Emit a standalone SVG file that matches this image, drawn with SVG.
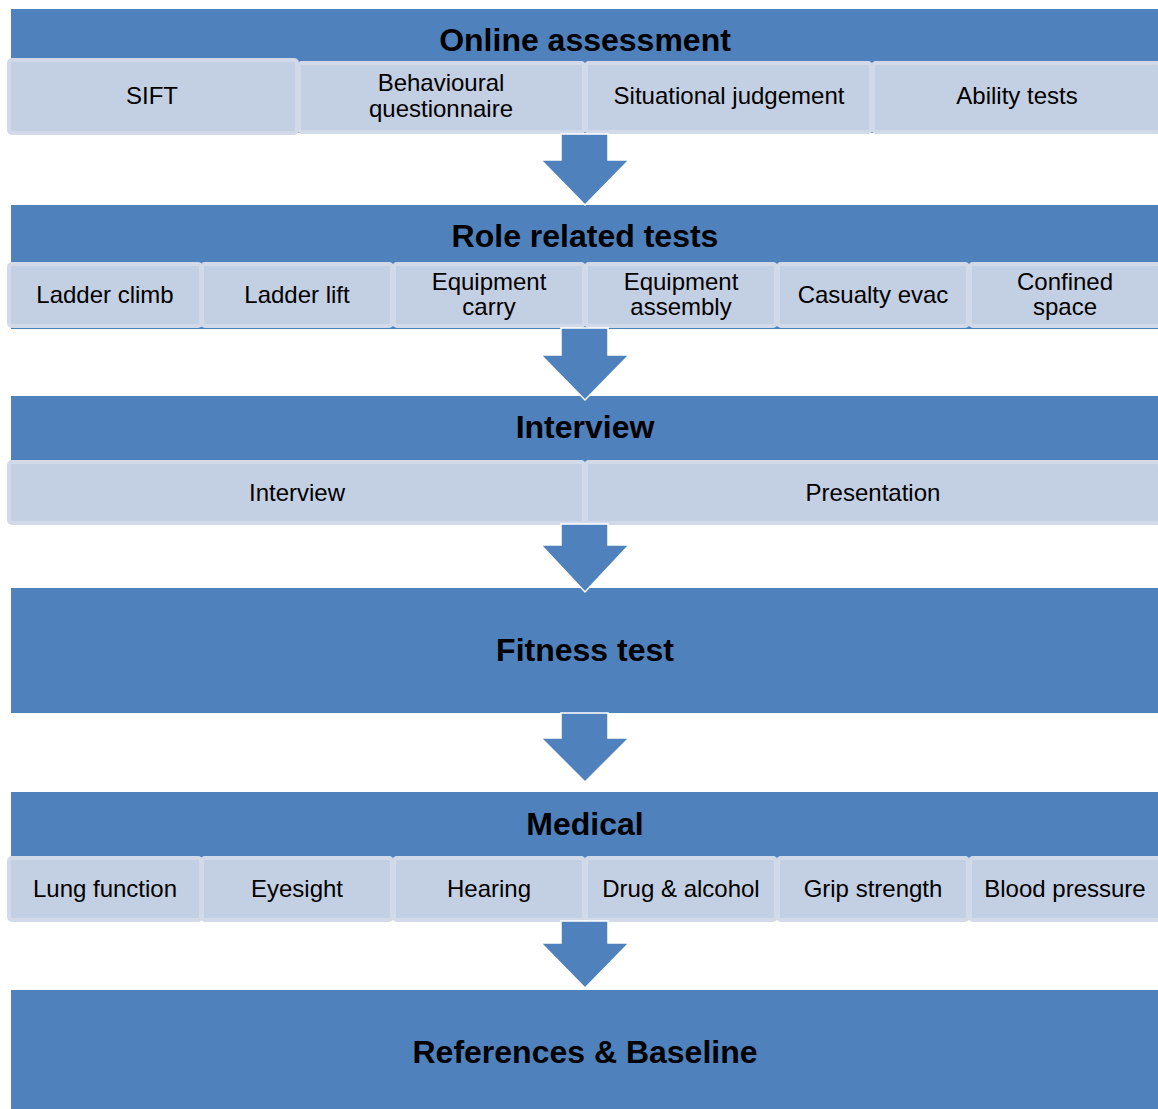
<svg xmlns="http://www.w3.org/2000/svg" width="1158" height="1109" viewBox="0 0 1158 1109">
<style>
.bar{fill:#4F81BD;}
.sub{fill:#C3CFE2;stroke:#D2DAE9;stroke-width:4;}
.h{font-family:"Liberation Sans",Arial,sans-serif;font-weight:bold;font-size:32px;fill:#000;text-anchor:middle;}
.t{font-family:"Liberation Sans",Arial,sans-serif;font-size:24px;fill:#000;text-anchor:middle;}
.arr{fill:#4F81BD;stroke:#FFFFFF;stroke-width:1.5;stroke-linejoin:miter;}
</style>
<rect width="1158" height="1109" fill="#FFFFFF"/>

<g id="online-assessment">
<rect class="bar" x="11" y="9" width="1147" height="124"/>
<text class="h" x="585" y="51">Online assessment</text>
<g id="sift"><rect class="sub" x="9" y="60" width="288" height="73" rx="3"/><text class="t" x="152" y="104">SIFT</text></g>
<g id="behavioural"><rect class="sub" x="299" y="63" width="285" height="69" rx="3"/><text class="t" x="441" y="91">Behavioural</text><text class="t" x="441" y="117">questionnaire</text></g>
<g id="situational"><rect class="sub" x="586" y="63" width="285" height="69" rx="3"/><text class="t" x="729" y="104">Situational judgement</text></g>
<g id="ability"><rect class="sub" x="873" y="63" width="287" height="69" rx="3"/><text class="t" x="1017" y="104">Ability tests</text></g>
</g>

<g id="role-related-tests">
<rect class="bar" x="11" y="205" width="1147" height="124"/>
<text class="h" x="585" y="247">Role related tests</text>
<g id="ladder-climb"><rect class="sub" x="9" y="264" width="192" height="62" rx="3"/><text class="t" x="105" y="303">Ladder climb</text></g>
<g id="ladder-lift"><rect class="sub" x="202" y="264" width="190" height="62" rx="3"/><text class="t" x="297" y="303">Ladder lift</text></g>
<g id="equipment-carry"><rect class="sub" x="394" y="264" width="190" height="62" rx="3"/><text class="t" x="489" y="290">Equipment</text><text class="t" x="489" y="315">carry</text></g>
<g id="equipment-assembly"><rect class="sub" x="586" y="264" width="190" height="62" rx="3"/><text class="t" x="681" y="290">Equipment</text><text class="t" x="681" y="315">assembly</text></g>
<g id="casualty-evac"><rect class="sub" x="778" y="264" width="190" height="62" rx="3"/><text class="t" x="873" y="303">Casualty evac</text></g>
<g id="confined-space"><rect class="sub" x="970" y="264" width="190" height="62" rx="3"/><text class="t" x="1065" y="290">Confined</text><text class="t" x="1065" y="315">space</text></g>
</g>

<g id="interview">
<rect class="bar" x="11" y="396" width="1147" height="127"/>
<text class="h" x="585" y="438">Interview</text>
<g id="interview-sub"><rect class="sub" x="9" y="462" width="575" height="61" rx="3"/><text class="t" x="297" y="501">Interview</text></g>
<g id="presentation"><rect class="sub" x="586" y="462" width="574" height="61" rx="3"/><text class="t" x="873" y="501">Presentation</text></g>
</g>

<g id="fitness-test">
<rect class="bar" x="11" y="588" width="1147" height="125"/>
<text class="h" x="585" y="661">Fitness test</text>
</g>

<g id="medical">
<rect class="bar" x="11" y="792" width="1147" height="128"/>
<text class="h" x="585" y="835">Medical</text>
<g id="lung"><rect class="sub" x="9" y="858" width="192" height="62" rx="3"/><text class="t" x="105" y="897">Lung function</text></g>
<g id="eyesight"><rect class="sub" x="202" y="858" width="190" height="62" rx="3"/><text class="t" x="297" y="897">Eyesight</text></g>
<g id="hearing"><rect class="sub" x="394" y="858" width="190" height="62" rx="3"/><text class="t" x="489" y="897">Hearing</text></g>
<g id="drug"><rect class="sub" x="586" y="858" width="190" height="62" rx="3"/><text class="t" x="681" y="897">Drug &amp; alcohol</text></g>
<g id="grip"><rect class="sub" x="778" y="858" width="190" height="62" rx="3"/><text class="t" x="873" y="897">Grip strength</text></g>
<g id="blood"><rect class="sub" x="970" y="858" width="190" height="62" rx="3"/><text class="t" x="1065" y="897">Blood pressure</text></g>
</g>

<g id="references">
<rect class="bar" x="11" y="990" width="1147" height="119"/>
<text class="h" x="585" y="1063">References &amp; Baseline</text>
</g>

<g id="connectors">
<polygon class="arr" points="561,134 608,134 608,160 629,160 585,205 541,160 561,160"/>
<polygon class="arr" points="561,328 608,328 608,355 629,355 585,400 541,355 561,355"/>
<polygon class="arr" points="561,524 608,524 608,545 629,545 585,592 541,545 561,545"/>
<polygon class="arr" points="561,713 608,713 608,738 629,738 585,782 541,738 561,738"/>
<polygon class="arr" points="561,921 608,921 608,943 629,943 585,988 541,943 561,943"/>
</g>
</svg>
